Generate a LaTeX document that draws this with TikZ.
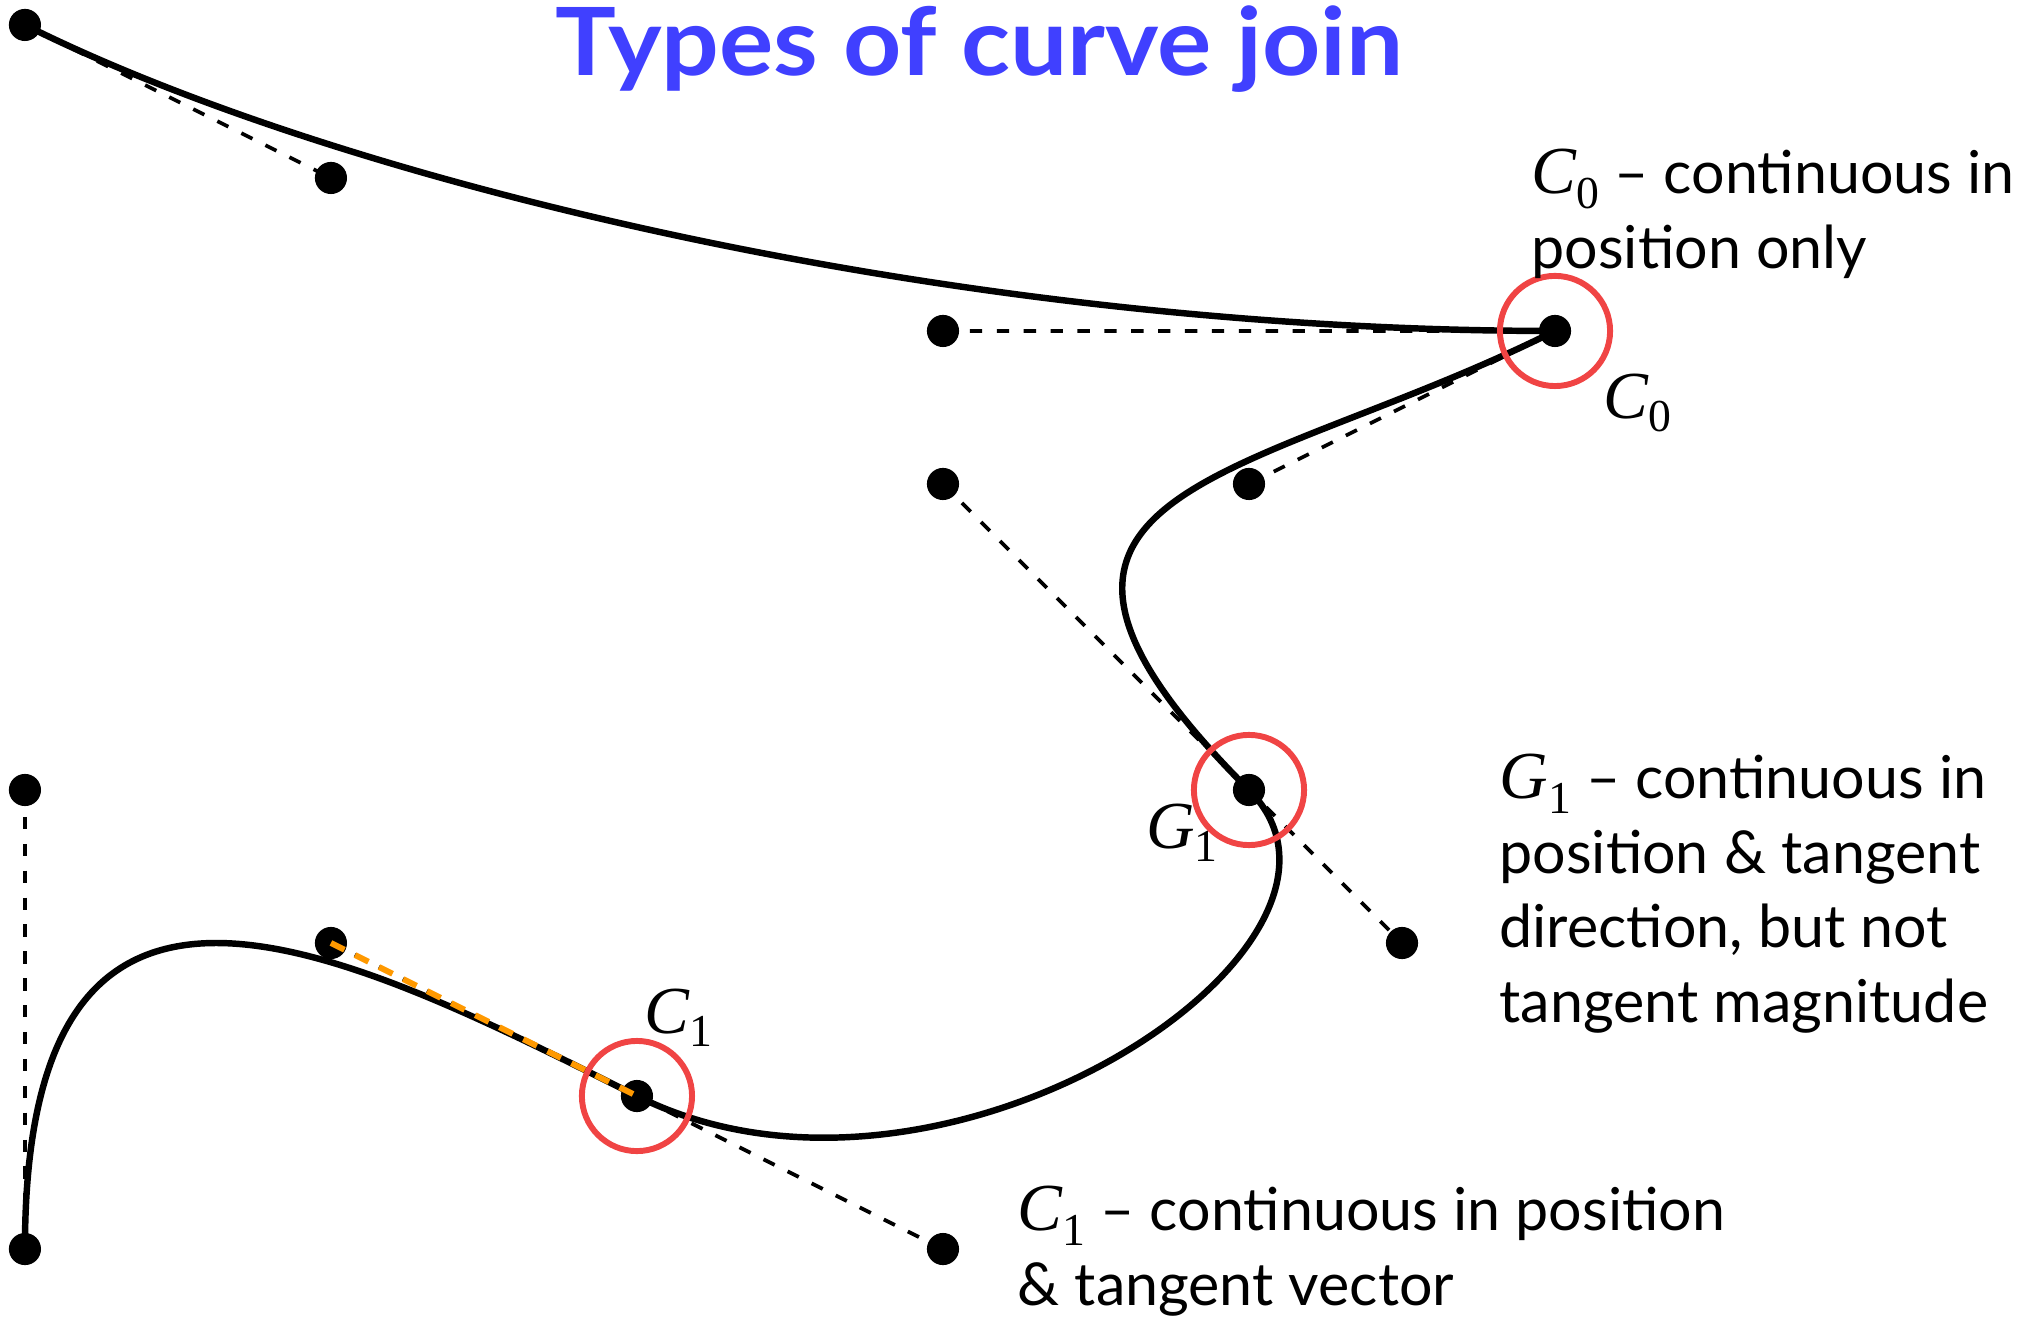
\documentclass[tikz,border=0pt]{standalone}
\usepackage{fontspec}
\setmainfont{Lato}
\newfontfamily\timesfont{Liberation Serif}
\usepackage{tikz}
\usetikzlibrary{positioning,calc}

\definecolor{titleblue}{RGB}{64,64,255}
\definecolor{joinred}{RGB}{240,68,68}
\definecolor{tanorange}{RGB}{255,153,0}

% italic letter with upright subscript, as on the slide
\newcommand{\joinname}[2]{{\timesfont\fontsize{12.5}{14}\selectfont\itshape #1}\raisebox{-0.25em}{\timesfont\fontsize{8.5}{9}\selectfont #2}}

\tikzset{
  ctrl/.style={circle,fill=black,inner sep=0pt,minimum size=0.21cm},
  curve/.style={line width=1.2pt},
  hull/.style={line width=0.7pt,dash pattern=on 2.3pt off 2.7pt},
  joinring/.style={draw=joinred,line width=1.1pt,circle,minimum size=0.72cm,inner sep=0pt},
  note/.style={anchor=base west,align=left,inner sep=0pt,font=\fontsize{11}{13.9}\selectfont},
  tag/.style={anchor=base west,inner sep=0pt}
}

\begin{document}
\begin{tikzpicture}[x=1cm,y=-1cm]

\useasboundingbox (-0.163,-0.163) rectangle (13.124,8.451);

\node[anchor=base,text=titleblue,font=\fontsize{17.5}{20}\selectfont\bfseries] (title) at (6.24,0.33) {\scalebox{1.08}[1]{Types of curve join}};

% control points
\node[ctrl] (p0) at (0,0) {};
\node[ctrl] (p1) at (2,1) {};
\node[ctrl] (p2) at (6,2) {};
\node[ctrl] (p3) at (10,2) {};
\node[ctrl] (p4) at (8,3) {};
\node[ctrl] (p5) at (6,3) {};
\node[ctrl] (p6) at (8,5) {};
\node[ctrl] (p7) at (9,6) {};
\node[ctrl] (p8) at (6,8) {};
\node[ctrl] (p9) at (4,7) {};
\node[ctrl] (p10) at (2,6) {};
\node[ctrl] (p11) at (0,5) {};
\node[ctrl] (p12) at (0,8) {};

% control polygons
\draw[hull] (p0.center) -- (p1.center);
\draw[hull] (p2.center) -- (p3.center) -- (p4.center);
\draw[hull] (p5.center) -- (p6.center) -- (p7.center);
\draw[hull] (p8.center) -- (p9.center) -- (p10.center);
\draw[hull] (p11.center) -- (p12.center);

% the four segments
\draw[curve] (p0.center) .. controls (p1.center) and (p2.center) .. (p3.center);
\draw[curve] (p3.center) .. controls (p4.center) and (p5.center) .. (p6.center);
\draw[curve] (p6.center) .. controls (p7.center) and (p8.center) .. (p9.center);
\draw[curve] (p9.center) .. controls (p10.center) and (p11.center) .. (p12.center);

% shared tangent at the C1 join
\draw[draw=tanorange,line width=1.1pt,dash pattern=on 2.8pt off 2.2pt] (p10.center) -- (p9.center);

% joins
\node[joinring] (ring0) at (p3) {};
\node[joinring] (ring1) at (p6) {};
\node[joinring] (ring2) at (p9) {};

\node[tag] (c0tag) at (10.31,2.57) {\joinname{C}{0}};
\node[tag] (g1tag) at (7.32,5.38) {\joinname{G}{1}};
\node[tag] (c1tag) at (4.04,6.59) {\joinname{C}{1}};

\node[note] (c0note) at (9.84,1.59) {\joinname{C}{0} – continuous in\\position only};
\node[note] (g1note) at (9.63,6.52) {\joinname{G}{1} – continuous in\\position \& tangent\\direction, but not\\tangent magnitude};
\node[note] (c1note) at (6.48,8.37) {\joinname{C}{1} – continuous in position\\\& tangent vector};

\end{tikzpicture}
\end{document}
